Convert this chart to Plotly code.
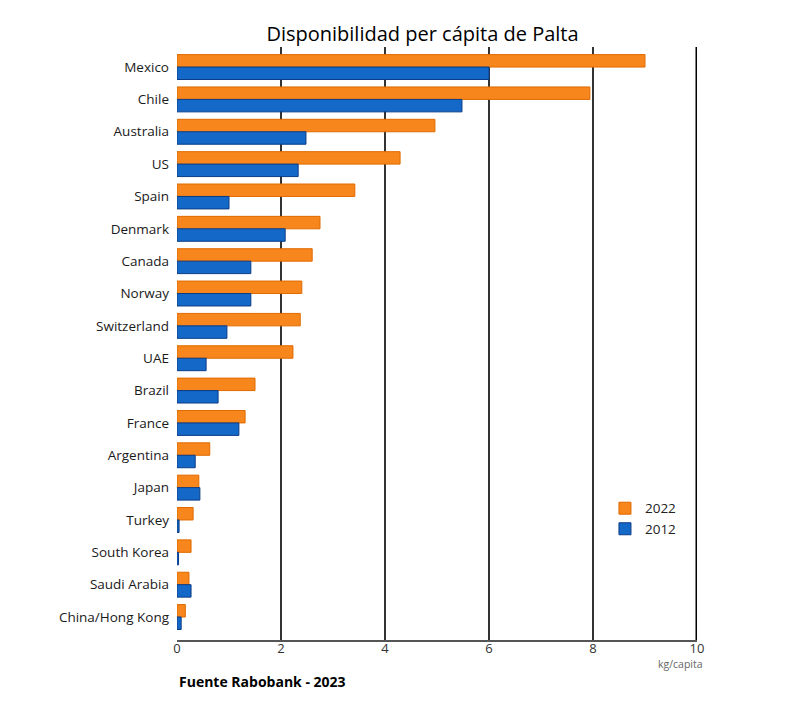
import plotly.graph_objects as go

# paises (de arriba hacia abajo)
paises = ['Mexico', 'Chile', 'Australia', 'US', 'Spain', 'Denmark', 'Canada',
          'Norway', 'Switzerland', 'UAE', 'Brazil', 'France', 'Argentina',
          'Japan', 'Turkey', 'South Korea', 'Saudi Arabia', 'China/Hong Kong']

# kg/capita
v2022 = [9.0, 7.94, 4.96, 4.29, 3.42, 2.75, 2.6, 2.4, 2.37, 2.23, 1.5, 1.31,
         0.63, 0.42, 0.31, 0.27, 0.23, 0.16]
v2012 = [6.0, 5.48, 2.48, 2.33, 1.0, 2.08, 1.42, 1.42, 0.96, 0.56, 0.79, 1.19,
         0.35, 0.44, 0.04, 0.03, 0.27, 0.08]

xticks = [0, 2, 4, 6, 8, 10]

data = [go.Bar(y=paises, x=v2022, name='2022', orientation='h',
               marker=dict(color='#F7861C', line=dict(color='#E06A00', width=1))),
        go.Bar(y=paises, x=v2012, name='2012', orientation='h',
               marker=dict(color='#1468C8', line=dict(color='#0B3C86', width=1)))]

layout = go.Layout(
    width=808, height=710,
    margin=dict(l=169, r=119, t=39, b=78),
    paper_bgcolor='white', plot_bgcolor='white',
    font=dict(family='Open Sans', size=12, color='#222'),
    title=dict(text='Disponibilidad per cápita de Palta', x=0.513, xanchor='center',
               y=0.963, yanchor='middle', font=dict(size=20, color='black')),
    barmode='group', bargap=0.23, bargroupgap=0,
    xaxis=dict(range=[0, 10], tickvals=xticks, showgrid=True, gridcolor='#333',
               gridwidth=1.5, zeroline=False, showline=True, linecolor='#555',
               linewidth=1.5, ticks='', ticklabelstandoff=-4,
               tickfont=dict(size=13, color='#333')),
    yaxis=dict(categoryorder='array', categoryarray=paises,
               range=[17.71, -0.62], showgrid=False, ticks='',
               ticksuffix='  ', tickfont=dict(size=13.5, color='#1a1a1a')),
    legend=dict(x=0.823, y=0.248, xanchor='left', yanchor='top',
                font=dict(size=13.5, color='#222'), tracegroupgap=0),
    shapes=[dict(type='line', xref='x', yref='paper', x0=10, x1=10, y0=0, y1=1,
                 line=dict(color='black', width=3))],
    annotations=[
        dict(text='kg/capita', xref='paper', yref='paper', x=1.015, y=-0.026,
             xanchor='right', yanchor='top', showarrow=False,
             font=dict(size=10.5, color='#666')),
        dict(text='<b>Fuente Rabobank - 2023</b>', xref='paper', yref='paper',
             x=0, y=-0.05, xanchor='left', yanchor='top', showarrow=False,
             font=dict(size=14, color='black')),
    ],
)

fig = go.Figure(data=data, layout=layout)
fig.write_html('out.html')
